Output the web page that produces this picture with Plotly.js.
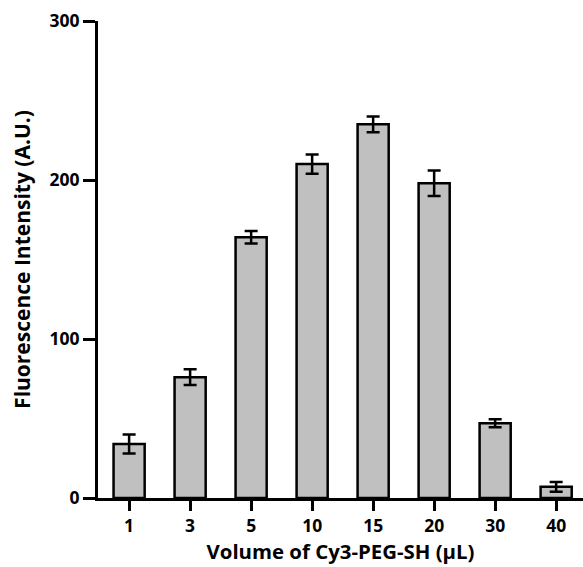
<!DOCTYPE html>
<html><head><meta charset="utf-8">
<script src="https://cdn.plot.ly/plotly-3.0.1.min.js"></script>
<style>html,body{margin:0;padding:0;background:#fff;}#chart{width:583px;height:567px;}</style>
</head><body><div id="chart"></div>
<script>
const categories = ["1","3","5","10","15","20","30","40"];
const values = [34, 76, 164, 210, 235, 198, 47, 7];
const errors = [6, 5, 4, 6, 5, 8, 2.5, 3];
const yTicks = [0, 100, 200, 300];

const family = "Open Sans, sans-serif";
const tickFont = {family: family, size: 17.5, color: "#000", weight: "bold"};
const xTitleFont = {family: family, size: 20.4, color: "#000", weight: "bold"};
const yTitleFont = {family: family, size: 21, color: "#000", weight: "bold"};

Plotly.newPlot("chart", [{
  type: "bar",
  x: categories,
  y: values,
  width: 0.51,
  marker: {color: "#c0c0c0", line: {color: "#000", width: 2.5}},
  error_y: {type: "data", array: errors, visible: true, color: "#000", thickness: 2.5, width: 6.5},
  cliponaxis: false
}], {
  width: 583, height: 567,
  margin: {l: 98, r: 0, t: 21, b: 69},
  paper_bgcolor: "#fff", plot_bgcolor: "#fff",
  showlegend: false,
  font: tickFont,
  xaxis: {
    type: "category",
    range: [-0.51, 7.44],
    showline: true, linecolor: "#000", linewidth: 3,
    ticks: "outside", ticklen: 10, tickwidth: 3, tickcolor: "#000",
    showgrid: false, zeroline: false,
    tickfont: tickFont,
    title: {text: "Volume of Cy3-PEG-SH (μL)", font: xTitleFont, standoff: 6}
  },
  yaxis: {
    range: [0, 300],
    tickvals: yTicks,
    ticktext: yTicks.map(String),
    showline: true, linecolor: "#000", linewidth: 3,
    ticks: "outside", ticklen: 12, tickwidth: 3, tickcolor: "#000",
    showgrid: false, zeroline: false,
    tickfont: tickFont,
    title: {text: "Fluorescence Intensity (A.U.)", font: yTitleFont, standoff: 14}
  }
}, {displayModeBar: false, staticPlot: true});
</script></body></html>
